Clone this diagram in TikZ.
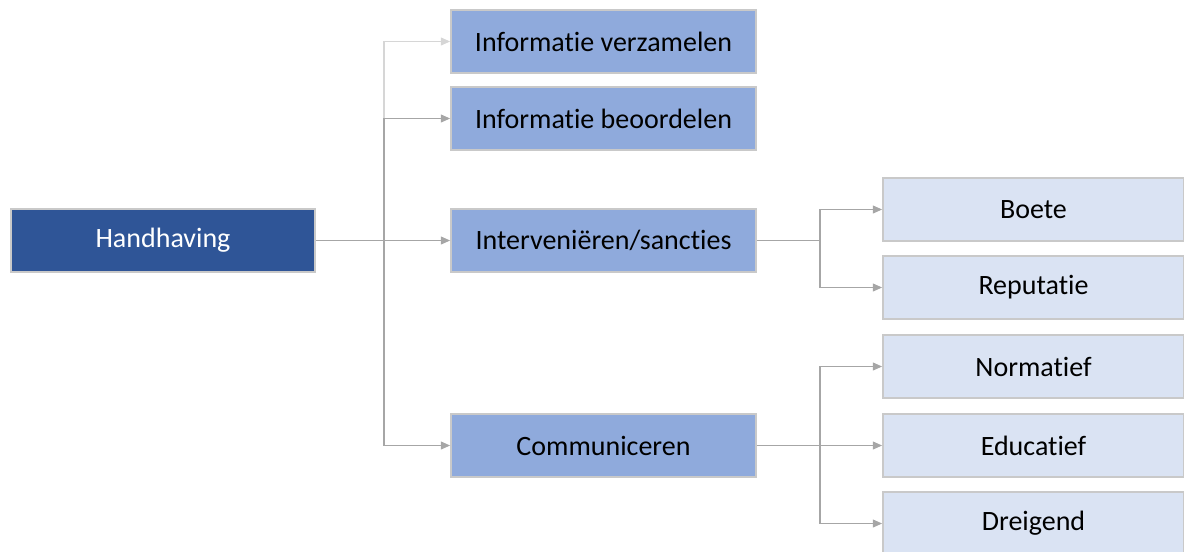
\documentclass[tikz,border=0pt]{standalone}
\usepackage{fontspec}
\setmainfont[Ligatures=CommonOff]{Carlito}
\usetikzlibrary{arrows.meta}

\definecolor{darkblue}{HTML}{2F5597}
\definecolor{midblue}{HTML}{8FAADC}
\definecolor{paleblue}{HTML}{DAE3F3}
\definecolor{boxline}{HTML}{C9C9C9}
\definecolor{linegray}{HTML}{A6A6A6}
\definecolor{faintgray}{HTML}{D6D6D6}

\tikzset{every picture/.style={line width=0.75pt}}
\tikzset{
  boxbase/.style={draw=boxline, line width=1.1pt, inner sep=0pt, font=\fontsize{21}{24}\selectfont},
  rootbox/.style={boxbase, fill=darkblue, text=white, minimum width=228pt, minimum height=47pt},
  midbox/.style={boxbase, fill=midblue, text=black, minimum width=229pt, minimum height=47pt},
  leafbox/.style={boxbase, fill=paleblue, text=black, minimum width=226pt, minimum height=47pt},
  conn/.style={draw=linegray, line width=0.9pt},
  connarrow/.style={conn, -{Triangle[length=7pt,width=6pt,fill=linegray]}},
}

\begin{document}
\begin{tikzpicture}[x=0.75pt,y=0.75pt,yscale=-1,xscale=1]
    \useasboundingbox (0,0) rectangle (1184,551);
    % Root
    \node [rootbox] (hand) at (163,240.5) {Handhaving};
    % Second level
    \node [midbox] (verz) at (603.5,41.5) {Informatie verzamelen};
    \node [midbox] (beoord) at (603.5,118.5) {Informatie beoordelen};
    \node [midbox] (interv) at (603.5,240.5) {Interveniëren/sancties};
    \node [midbox] (comm) at (603.5,445.5) {Communiceren};
    % Third level
    \node [leafbox] (boete) at (1033.5,209.5) {Boete};
    \node [leafbox] (reput) at (1033.5,287.5) {Reputatie};
    \node [leafbox] (norm) at (1033.5,366.5) {Normatief};
    \node [leafbox] (educ) at (1033.5,445.5) {Educatief};
    \node [leafbox] (dreig) at (1033.5,523.5) {Dreigend};
    % Branch points
    \coordinate (split1) at (384,240.5);
    \coordinate (split2) at (820,240.5);
    \coordinate (split3) at (820,445.5);
    % Connections from Handhaving
    \draw [connarrow, draw=faintgray, -{Triangle[length=7pt,width=6pt,fill=faintgray]}] (split1 |- beoord) |- (verz.west);
    \draw [conn] (hand.east) -- (split1);
    \draw [connarrow] (split1) |- (beoord.west);
    \draw [connarrow] (split1) -- (interv.west);
    \draw [connarrow] (split1) |- (comm.west);
    % Connections from Interveniëren/sancties
    \draw [conn] (interv.east) -- (split2);
    \draw [connarrow] (split2) |- (boete.west);
    \draw [connarrow] (split2) |- (reput.west);
    % Connections from Communiceren
    \draw [conn] (comm.east) -- (split3);
    \draw [connarrow] (split3) |- (norm.west);
    \draw [connarrow] (split3) -- (educ.west);
    \draw [connarrow] (split3) |- (dreig.west);
\end{tikzpicture}
\end{document}
